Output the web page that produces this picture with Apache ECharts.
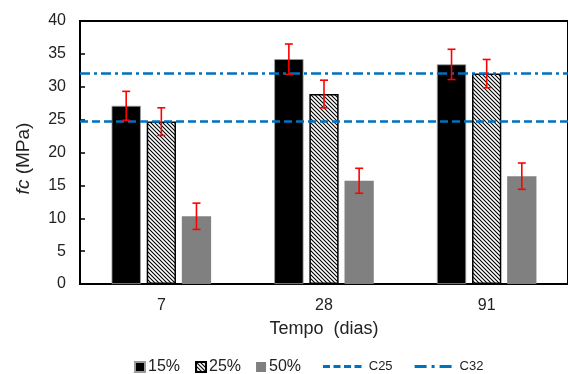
<!DOCTYPE html>
<html><head><meta charset="utf-8">
<script src="https://cdn.jsdelivr.net/npm/echarts@6/dist/echarts.min.js"></script>
<style>html,body{margin:0;padding:0;background:#fff}#c{width:568px;height:374px}</style>
</head><body><div id="c"></div>
<script>
const categories = ['7', '28', '91'];
const seriesNames = ['15%', '25%', '50%'];
const fc15 = [27.1, 34.2, 33.4];
const fc25 = [24.7, 28.9, 32.0];
const fc50 = [10.3, 15.7, 16.4];
const err15 = [2.2, 2.3, 2.3];
const err25 = [2.1, 2.1, 2.15];
const err50 = [2.0, 1.9, 2.0];
const refNames = ['C25', 'C32'];
const refValues = [24.7, 32.0];
const yMin = 0, yMax = 40, yInterval = 5;

const FONT = "'Liberation Sans', Arial, sans-serif";
const TXT = '#222';

function hatch() {
  const c = document.createElement('canvas'); c.width = 4; c.height = 4;
  const x = c.getContext('2d');
  x.fillStyle = '#fff'; x.fillRect(0, 0, 4, 4);
  x.strokeStyle = '#000'; x.lineWidth = 1.1;
  x.beginPath();
  x.moveTo(-1, -1); x.lineTo(5, 5);
  x.moveTo(-1, 3); x.lineTo(1, 5);
  x.moveTo(3, -1); x.lineTo(5, 1);
  x.stroke();
  return c;
}
const hatchFill = { image: hatch(), repeat: 'repeat' };

const values = [fc15, fc25, fc50];
const errs = [err15, err25, err50];
const errData = [];
values.forEach((arr, si) => arr.forEach((v, ci) => {
  errData.push([ci, si, v - errs[si][ci], v + errs[si][ci]]);
}));

const barStyles = [
  { color: '#000', borderColor: '#9a9a9a', borderWidth: 0.8 },
  { color: hatchFill, borderColor: '#000', borderWidth: 1.5 },
  { color: '#808080', borderWidth: 0 }
];
const dashTypes = [[8, 4], [10, 4, 3, 4]];
const legendIcons = [
  'path://M0,0h7v3h-7z M10.5,0h7v3h-7z M21,0h7v3h-7z M31.5,0h7v3h-7z',
  'path://M0,0h12v3h-12z M17,0h3v3h-3z M25,0h12v3h-12z'
];

const chart = echarts.init(document.getElementById('c'), null, { renderer: 'canvas' });
const option = {
  animation: false,
  textStyle: { fontFamily: FONT },
  grid: { left: 80, top: 21, width: 495, height: 263, show: true, borderColor: '#000', borderWidth: 2, backgroundColor: 'transparent' },
  legend: [
    { data: seriesNames, left: 134, top: 359, padding: 0, icon: 'rect', itemWidth: 10, itemHeight: 10, itemGap: 15,
      textStyle: { fontSize: 16, color: TXT, fontFamily: FONT, padding: [0, 0, 0, -2] } },
    { data: refNames.map((n, i) => ({ name: n, icon: legendIcons[i] })), left: 323, top: 360, padding: 0,
      itemWidth: 39, itemHeight: 3, itemGap: 22,
      textStyle: { fontSize: 13, color: TXT, fontFamily: FONT, padding: [0, 0, 0, 2] } }
  ],
  xAxis: {
    type: 'category', data: categories,
    name: 'Tempo  (dias)', nameLocation: 'middle', nameGap: 36,
    nameTextStyle: { fontSize: 18, color: TXT, fontFamily: FONT },
    axisLine: { lineStyle: { color: '#000', width: 2 } },
    axisTick: { inside: true, length: 5, lineStyle: { color: '#000', width: 1.5 } },
    axisLabel: { fontSize: 16, color: TXT, margin: 14, fontFamily: FONT }
  },
  yAxis: {
    type: 'value', min: yMin, max: yMax, interval: yInterval,
    name: '{i|fc} (MPa)', nameLocation: 'middle', nameGap: 47,
    nameTextStyle: { fontSize: 19, color: TXT, fontFamily: FONT, padding: [0, 0, 0, -12],
      rich: { i: { fontStyle: 'italic', fontSize: 19, color: TXT, fontFamily: FONT } } },
    axisLine: { show: true, lineStyle: { color: '#000', width: 2 } },
    axisTick: { show: true, inside: true, length: 5, lineStyle: { color: '#000', width: 1.5 } },
    axisLabel: { fontSize: 16, color: TXT, margin: 14, fontFamily: FONT },
    splitLine: { show: false }
  },
  series: [
    ...values.map((arr, si) => ({
      name: seriesNames[si], type: 'bar', data: arr, barWidth: '18%', barGap: '20%',
      itemStyle: barStyles[si], z: 2
    })),
    ...refNames.map((n, i) => ({
      name: n, type: 'line', data: [], symbol: 'none', showSymbol: false, z: 5,
      lineStyle: { color: '#0070C0', width: 2.5, type: dashTypes[i] },
      itemStyle: { color: '#0070C0' },
      markLine: {
        silent: true, symbol: 'none', label: { show: false }, z: 5,
        lineStyle: { color: '#0070C0', width: 2.5, type: dashTypes[i] },
        data: [{ yAxis: refValues[i] }]
      }
    })),
    {
      type: 'custom', name: 'err', z: 10, data: errData,
      encode: { x: 0, y: [2, 3] },
      renderItem: function (params, api) {
        const ci = api.value(0), si = api.value(1), lo = api.value(2), hi = api.value(3);
        const band = api.size([1, 0])[0];
        const bw = band * 0.18;
        const off = (si - 1) * bw * 1.2;
        const p1 = api.coord([ci, hi]);
        const p2 = api.coord([ci, lo]);
        const x = p1[0] + off, cap = 4;
        const st = { stroke: '#FF0000', lineWidth: 1.6 };
        return { type: 'group', children: [
          { type: 'line', shape: { x1: x, y1: p1[1], x2: x, y2: p2[1] }, style: st },
          { type: 'line', shape: { x1: x - cap, y1: p1[1], x2: x + cap, y2: p1[1] }, style: st },
          { type: 'line', shape: { x1: x - cap, y1: p2[1], x2: x + cap, y2: p2[1] }, style: st }
        ] };
      }
    }
  ]
};
chart.setOption(option);
</script>
</body></html>
